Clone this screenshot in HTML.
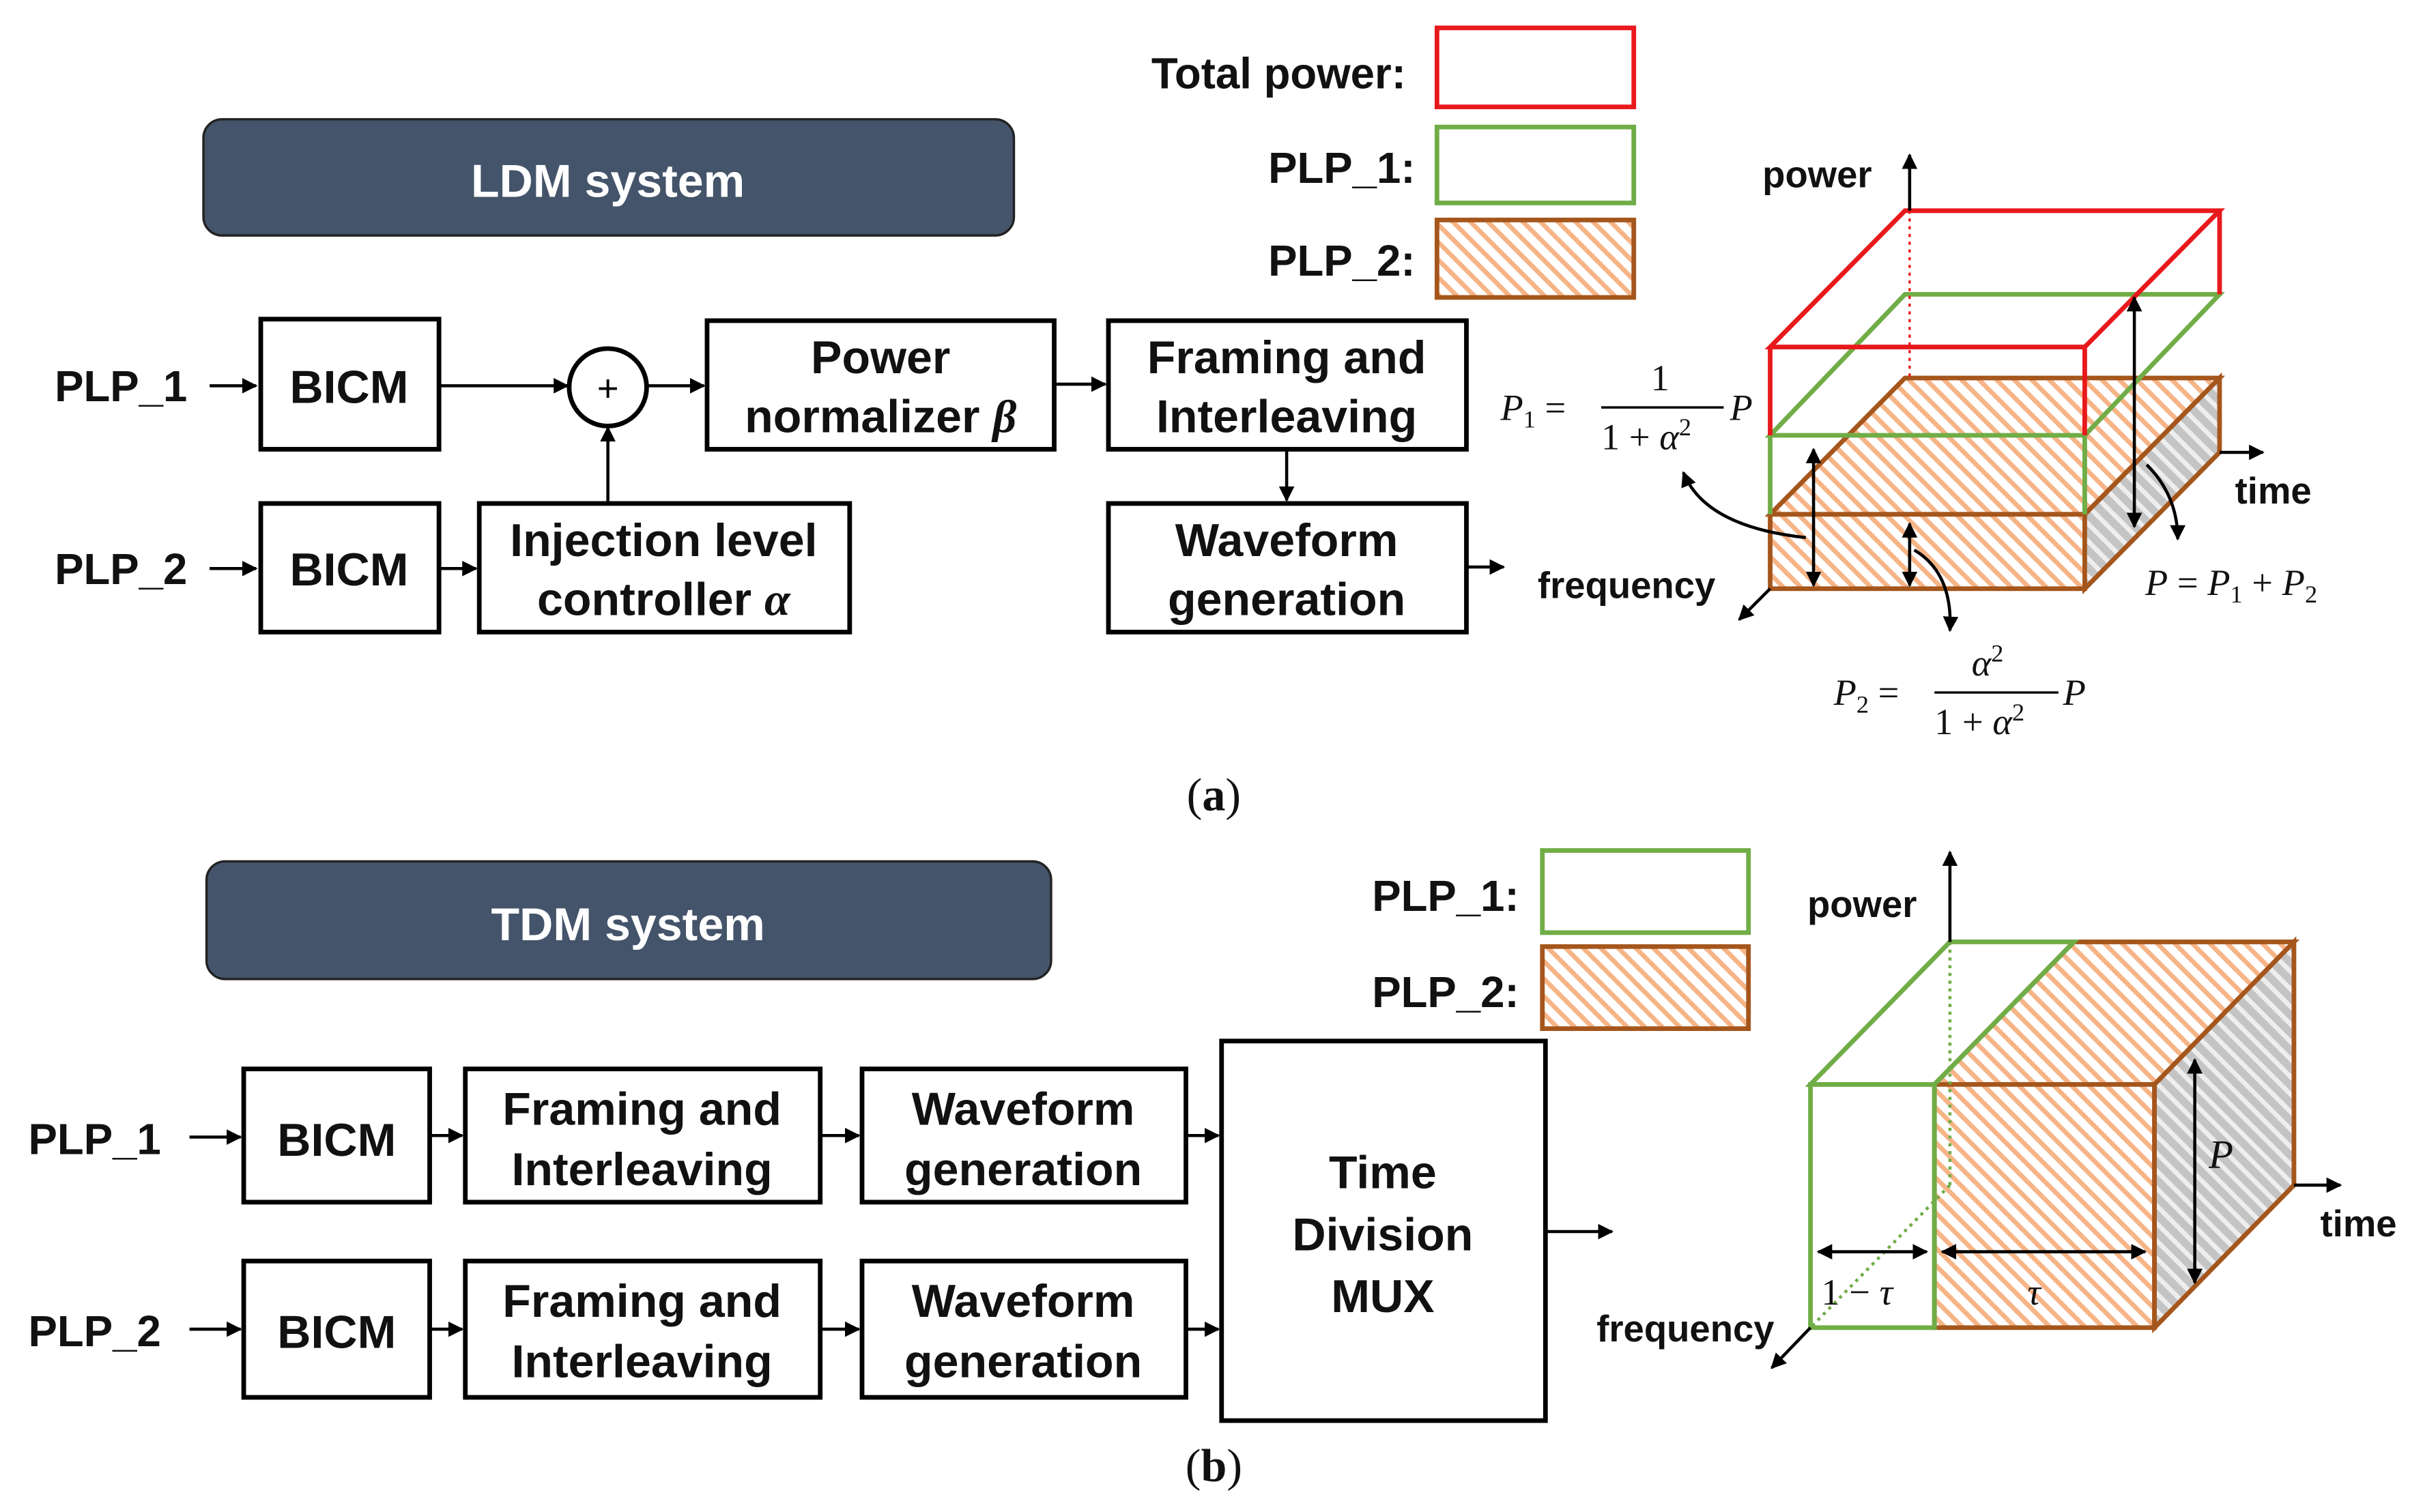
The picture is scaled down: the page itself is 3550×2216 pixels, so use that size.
<!DOCTYPE html>
<html><head><meta charset="utf-8"><style>
html,body{margin:0;padding:0;background:#fff;}
svg{display:block;}
.b{font-family:"Liberation Sans",sans-serif;font-weight:bold;fill:#111;}
.m{font-family:"Liberation Serif",serif;font-style:italic;font-weight:bold;fill:#111;}
</style></head><body>
<svg width="3550" height="2216" viewBox="0 0 1563 976" xmlns="http://www.w3.org/2000/svg">
<defs>
<pattern id="h" width="8" height="8" patternUnits="userSpaceOnUse" patternTransform="rotate(-45)">
<rect width="8" height="8" fill="#fff"/><rect width="3" height="8" fill="#f6b487"/></pattern>
<pattern id="g" width="8" height="8" patternUnits="userSpaceOnUse" patternTransform="rotate(-45)">
<rect width="8" height="8" fill="#c4c4c4"/><rect width="3" height="8" fill="#eee"/></pattern>
<marker id="a" viewBox="0 0 10 10" refX="9" refY="5" markerWidth="5" markerHeight="5" orient="auto-start-reverse"><path d="M0,0L10,5L0,10z" fill="#000"/></marker>
</defs>
<g stroke="#000" stroke-width="3" fill="none">
<rect x="131" y="77" width="523" height="75" rx="12" fill="#44546a" stroke="#222" stroke-width="1.5"/>
<rect x="168" y="206" width="115" height="84"/>
<rect x="168" y="325" width="115" height="83"/>
<rect x="456" y="207" width="224" height="83"/>
<rect x="715" y="207" width="231" height="83"/>
<rect x="715" y="325" width="231" height="83"/>
<rect x="309" y="325" width="239" height="83"/>
<circle cx="392" cy="250" r="25"/>
<g stroke-width="2" marker-end="url(#a)">
<line x1="135" y1="249" x2="165" y2="249"/>
<line x1="135" y1="367" x2="165" y2="367"/>
<line x1="283" y1="249" x2="366" y2="249"/>
<line x1="417" y1="249" x2="454" y2="249"/>
<line x1="392" y1="325" x2="392" y2="276"/>
<line x1="680" y1="248" x2="713" y2="248"/>
<line x1="830" y1="290" x2="830" y2="323"/>
<line x1="946" y1="366" x2="970" y2="366"/>
<line x1="283" y1="367" x2="307" y2="367"/>
</g>
<rect x="927" y="18" width="127" height="51" stroke="#e8191c"/>
<rect x="927" y="82" width="127" height="49" stroke="#70ad47"/>
<rect x="927" y="142" width="127" height="50" stroke="#a5561c" fill="url(#h)"/>
<polygon points="1142,332 1345,332 1432,244 1229,244" fill="url(#h)" stroke="#a5561c"/>
<rect x="1142" y="332" width="203" height="48" fill="url(#h)" stroke="#a5561c"/>
<polygon points="1345,332 1432,244 1432,292 1345,380" fill="url(#g)" stroke="#a5561c"/>
<polygon points="1142,281 1345,281 1432,190 1229,190" stroke="#70ad47"/>
<line x1="1142" y1="281" x2="1142" y2="332" stroke="#70ad47"/>
<line x1="1345" y1="281" x2="1345" y2="332" stroke="#70ad47"/>
<polygon points="1142,224 1345,224 1432,136 1229,136" stroke="#e8191c"/>
<line x1="1142" y1="224" x2="1142" y2="281" stroke="#e8191c"/>
<line x1="1345" y1="224" x2="1345" y2="281" stroke="#e8191c"/>
<line x1="1432" y1="136" x2="1432" y2="190" stroke="#e8191c"/>
<line x1="1232" y1="136" x2="1232" y2="244" stroke="#e8191c" stroke-width="1.5" stroke-dasharray="2,3"/>
<g stroke-width="2" marker-end="url(#a)">
<line x1="1232" y1="136" x2="1232" y2="100"/>
<line x1="1432" y1="292" x2="1460" y2="292"/>
<line x1="1142" y1="380" x2="1122" y2="400"/>
<line x1="1170" y1="290" x2="1170" y2="378" marker-start="url(#a)"/>
<line x1="1232" y1="338" x2="1232" y2="378" marker-start="url(#a)"/>
<line x1="1377" y1="192" x2="1377" y2="340" marker-start="url(#a)"/>
<path d="M1165,347 Q1100,340 1086,305"/>
<path d="M1235,355 Q1260,370 1258,407"/>
<path d="M1385,300 Q1405,320 1405,348"/>
</g>
<rect x="133" y="556" width="545" height="76" rx="12" fill="#44546a" stroke="#222" stroke-width="1.5"/>
<rect x="157" y="690" width="120" height="86"/>
<rect x="300" y="690" width="229" height="86"/>
<rect x="556" y="690" width="209" height="86"/>
<rect x="157" y="814" width="120" height="88"/>
<rect x="300" y="814" width="229" height="88"/>
<rect x="556" y="814" width="209" height="88"/>
<rect x="788" y="672" width="209" height="245"/>
<g stroke-width="2" marker-end="url(#a)">
<line x1="122" y1="734" x2="155" y2="734"/>
<line x1="122" y1="858" x2="155" y2="858"/>
<line x1="277" y1="733" x2="298" y2="733"/>
<line x1="277" y1="858" x2="298" y2="858"/>
<line x1="529" y1="733" x2="554" y2="733"/>
<line x1="529" y1="858" x2="554" y2="858"/>
<line x1="765" y1="733" x2="786" y2="733"/>
<line x1="765" y1="858" x2="786" y2="858"/>
<line x1="997" y1="795" x2="1040" y2="795"/>
</g>
<rect x="995" y="549" width="133" height="53" stroke="#70ad47"/>
<rect x="995" y="611" width="133" height="53" stroke="#a5561c" fill="url(#h)"/>
<polygon points="1248,700 1390,700 1480,608 1338,608" fill="url(#h)" stroke="#a5561c"/>
<rect x="1248" y="700" width="142" height="157" fill="url(#h)" stroke="#a5561c"/>
<polygon points="1390,700 1480,608 1480,765 1390,857" fill="url(#g)" stroke="#a5561c"/>
<polygon points="1168,700 1248,700 1338,608 1258,608" stroke="#70ad47"/>
<rect x="1168" y="700" width="80" height="157" stroke="#70ad47"/>
<line x1="1258" y1="608" x2="1258" y2="765" stroke="#70ad47" stroke-width="2" stroke-dasharray="2,3"/>
<line x1="1258" y1="765" x2="1168" y2="857" stroke="#70ad47" stroke-width="2" stroke-dasharray="2,3"/>
<g stroke-width="2" marker-end="url(#a)">
<line x1="1258" y1="608" x2="1258" y2="550"/>
<line x1="1480" y1="765" x2="1510" y2="765"/>
<line x1="1168" y1="857" x2="1143" y2="883"/>
<line x1="1173" y1="808" x2="1243" y2="808" marker-start="url(#a)"/>
<line x1="1253" y1="808" x2="1384" y2="808" marker-start="url(#a)"/>
<line x1="1416" y1="684" x2="1416" y2="828" marker-start="url(#a)"/>
</g>
</g>
<g class="b" font-size="30" text-anchor="middle">
<text x="392" y="127" style="fill:#fff">LDM system</text>
<text x="405" y="607" style="fill:#fff">TDM system</text>
<text x="225" y="260">BICM</text>
<text x="225" y="378">BICM</text>
<text x="568" y="241">Power</text>
<text x="568" y="279">normalizer <tspan class="m">β</tspan></text>
<text x="830" y="241">Framing and</text>
<text x="830" y="279">Interleaving</text>
<text x="830" y="359">Waveform</text>
<text x="830" y="397">generation</text>
<text x="428" y="359">Injection level</text>
<text x="428" y="397">controller <tspan class="m">α</tspan></text>
<text x="217" y="746">BICM</text>
<text x="217" y="870">BICM</text>
<text x="414" y="726">Framing and</text>
<text x="414" y="765">Interleaving</text>
<text x="414" y="850">Framing and</text>
<text x="414" y="889">Interleaving</text>
<text x="660" y="726">Waveform</text>
<text x="660" y="765">generation</text>
<text x="660" y="850">Waveform</text>
<text x="660" y="889">generation</text>
<text x="892" y="767">Time</text>
<text x="892" y="807">Division</text>
<text x="892" y="847">MUX</text>
</g>
<g class="b" font-size="28">
<text x="35" y="259">PLP_1</text>
<text x="35" y="377">PLP_2</text>
<text x="18" y="745">PLP_1</text>
<text x="18" y="869">PLP_2</text>
<text x="907" y="57" text-anchor="end">Total power:</text>
<text x="913" y="118" text-anchor="end">PLP_1:</text>
<text x="913" y="178" text-anchor="end">PLP_2:</text>
<text x="980" y="588" text-anchor="end">PLP_1:</text>
<text x="980" y="650" text-anchor="end">PLP_2:</text>
</g>
<g class="b" font-size="24">
<text x="1137" y="121">power</text>
<text x="1442" y="325">time</text>
<text x="992" y="386">frequency</text>
<text x="1166" y="592">power</text>
<text x="1497" y="798">time</text>
<text x="1030" y="866">frequency</text>
</g>
<g font-family="Liberation Serif,serif" font-size="24" fill="#111">
<text x="968" y="271"><tspan font-style="italic">P</tspan><tspan font-size="16" dy="5">1</tspan><tspan dy="-5"> =</tspan></text>
<line x1="1033" y1="263" x2="1112" y2="263" stroke="#000" stroke-width="1.5"/>
<text x="1065" y="252">1</text>
<text x="1033" y="290">1 + <tspan font-style="italic">α</tspan><tspan font-size="16" dy="-9">2</tspan></text>
<text x="1116" y="271" font-style="italic">P</text>
<text x="1384" y="384"><tspan font-style="italic">P</tspan> = <tspan font-style="italic">P</tspan><tspan font-size="16" dy="5">1</tspan><tspan dy="-5"> + </tspan><tspan font-style="italic">P</tspan><tspan font-size="16" dy="5">2</tspan></text>
<text x="1183" y="455"><tspan font-style="italic">P</tspan><tspan font-size="16" dy="5">2</tspan><tspan dy="-5"> =</tspan></text>
<line x1="1248" y1="447" x2="1328" y2="447" stroke="#000" stroke-width="1.5"/>
<text x="1272" y="436" font-style="italic">α<tspan font-size="16" font-style="normal" dy="-9">2</tspan></text>
<text x="1248" y="474">1 + <tspan font-style="italic">α</tspan><tspan font-size="16" dy="-9">2</tspan></text>
<text x="1331" y="455" font-style="italic">P</text>
<text x="1425" y="754" font-style="italic" font-size="26">P</text>
<text x="1308" y="842" font-style="italic">τ</text>
<text x="1175" y="842">1 − <tspan font-style="italic">τ</tspan></text>
<text x="783" y="523" text-anchor="middle" font-size="30">(<tspan font-weight="bold">a</tspan>)</text>
<text x="783" y="956" text-anchor="middle" font-size="30">(<tspan font-weight="bold">b</tspan>)</text>
</g>
<text x="392" y="259" text-anchor="middle" font-family="Liberation Sans,sans-serif" font-size="24" fill="#000">+</text>
</svg>
</body></html>
